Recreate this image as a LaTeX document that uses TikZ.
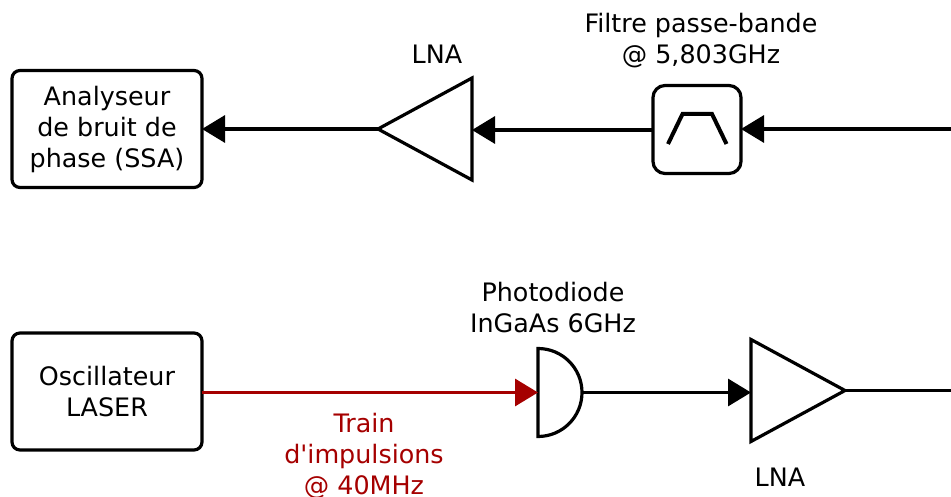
\documentclass[tikz,border=0pt]{standalone}
\usepackage{fontspec}
\setmainfont{DejaVu Sans}
\usepackage{xcolor}
\usetikzlibrary{arrows.meta,positioning,shapes.geometric}
\definecolor{trainred}{HTML}{A50000}

\begin{document}
\begin{tikzpicture}[
    x=1pt, y=-1pt,
    line width=3.2pt,
    every node/.style={font=\fontsize{25.4}{31}\selectfont},
    box/.style={draw, rounded corners=8pt, align=center, minimum width=190pt, minimum height=117pt, inner sep=0pt, outer sep=0pt},
    filterbox/.style={draw, rounded corners=12pt, minimum width=88pt, minimum height=88pt, inner sep=0pt, outer sep=0pt},
    lna/.style={draw, isosceles triangle, isosceles triangle stretches, minimum height=94pt, minimum width=102pt, inner sep=0pt, outer sep=0pt},
    diode/.style={draw, semicircle, shape border rotate=270, minimum size=44pt, inner sep=0pt, outer sep=0pt},
    lbl/.style={align=center, inner sep=0pt},
    link/.style={-{Triangle[length=23pt,width=27pt]}}
]
\useasboundingbox (0,0) rectangle (951,497);

% upper chain
\node[box] (ssa) at (107,129) {Analyseur\\de bruit de\\phase (SSA)};
\node[lna, shape border rotate=180, anchor=apex] (lnahaut) at (378,129) {};
\node[filterbox] (filtre) at (697,129.5) {};
\coordinate (entree) at (951,129);
\draw[line width=4pt] (filtre.center) ++(-29,14.5) -- ++(14.5,-30) -- ++(29.5,0) -- ++(14.5,30);

\node[lbl] (lbllnahaut) at (437,54) {LNA};
\node[lbl] (lblfiltre) at (701,41) {Filtre passe-bande\\@ 5,803GHz};

% lower chain
\node[box] (laser) at (107,391.5) {Oscillateur\\LASER};
\node[diode, anchor=chord center] (pd) at (538,392.5) {};
\node[lna, anchor=lower side] (lnabas) at (751,390.5) {};
\coordinate (sortie) at (951,390.5);

\node[lbl] (lblpd) at (553,307.5) {Photodiode\\InGaAs 6GHz};
\node[lbl, text=trainred] (lbltrain) at (364,456) {Train\\d\textquotesingle impulsions\\@ 40MHz};
\node[lbl] (lbllnabas) at (780,477) {LNA};

% connectors
\draw[link] (entree) -- (filtre.east |- entree);
\draw[link] (filtre.west |- 0,130) -- (lnahaut.lower side |- 0,130);
\draw[link] (lnahaut.apex) -- (ssa.east |- lnahaut.apex);
\draw[link, trainred] (laser.east |- pd.chord center) -- (pd.chord center);
\draw[link] (pd.apex) -- (lnabas.west |- pd.apex);
\draw (lnabas.apex) -- (sortie);
\end{tikzpicture}
\end{document}
